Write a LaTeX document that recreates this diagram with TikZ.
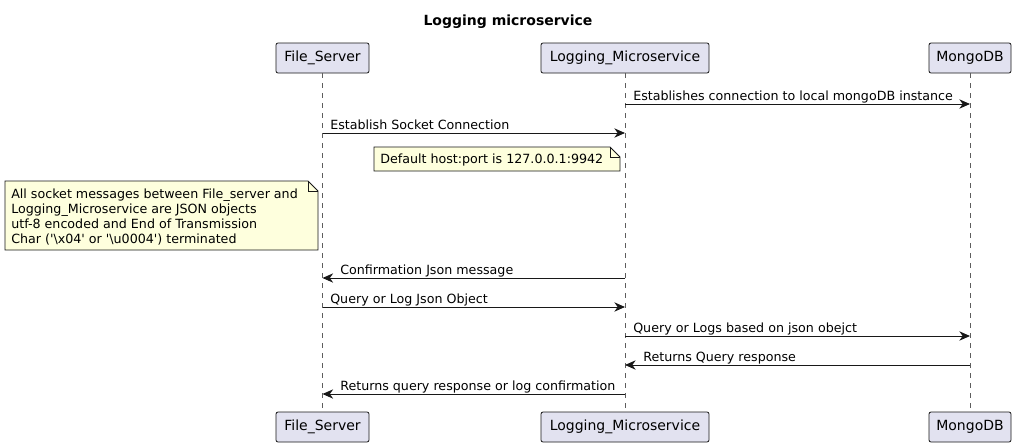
\documentclass[tikz,border=0pt]{standalone}
\usepackage{fontspec}
\setmainfont{DejaVu Sans}
\usetikzlibrary{arrows.meta}
\definecolor{partfill}{HTML}{E2E2F0}
\definecolor{notefill}{HTML}{FEFFDD}
\definecolor{umlline}{HTML}{181818}
\tikzset{
  part/.style={draw=umlline,fill=partfill,rounded corners=1.5pt,line width=0.6pt,minimum height=22.5pt,inner xsep=0pt,font=\fontsize{10.5}{12}\selectfont},
  life/.style={draw=umlline!70,dash pattern=on 3.75pt off 3.75pt,line width=0.4pt},
  msg/.style={draw=umlline,line width=0.75pt,-{Stealth[length=8pt,width=7pt,inset=2.5pt]}},
  lbl/.style={font=\fontsize{9.5}{11}\selectfont,inner sep=0pt,anchor=base west},
  notetxt/.style={font=\fontsize{9.5}{11.25}\selectfont,inner sep=0pt,anchor=north west,align=left}
}
\begin{document}
\begin{tikzpicture}[x=0.75pt,y=-0.75pt]
\useasboundingbox[fill=white](0,0) rectangle (1017,447);
\node[font=\bfseries\fontsize{10.5}{12}\selectfont] (title) at (508,22) {Logging microservice};
\node[part,minimum width=69.75pt] (fs) at (322.5,58) {File\_Server};
\node[part,minimum width=126pt] (lm) at (625,58) {Logging\_Microservice};
\node[part,minimum width=61.5pt] (mg) at (970,58) {MongoDB};
\node[part,minimum width=69.75pt] (fsb) at (322.5,427) {File\_Server};
\node[part,minimum width=126pt] (lmb) at (625,427) {Logging\_Microservice};
\node[part,minimum width=61.5pt] (mgb) at (970,427) {MongoDB};
\draw[life] (fs.south) -- (fsb.north);
\draw[life] (lm.south) -- (lmb.north);
\draw[life] (mg.south) -- (mgb.north);
\draw[msg] (lm|-0,104) -- (mg|-0,104);
\node[lbl] (m1) at (633,100) {Establishes connection to local mongoDB instance};
\draw[msg] (fs|-0,133) -- (lm|-0,133);
\node[lbl] (m2) at (330,129) {Establish Socket Connection};
\draw[line width=0.6pt,draw=umlline,fill=notefill] (374,147) -- (610,147) -- (620,157) -- (620,171) -- (374,171) -- cycle;
\draw[line width=0.6pt,draw=umlline] (610,147) -- (610,157) -- (620,157);
\node[notetxt] (n1) at (380,154) {Default host:port is 127.0.0.1:9942};
\draw[line width=0.6pt,draw=umlline,fill=notefill] (5,181) -- (308,181) -- (318,191) -- (318,250) -- (5,250) -- cycle;
\draw[line width=0.6pt,draw=umlline] (308,181) -- (308,191) -- (318,191);
\node[notetxt] (n2) at (11,189) {All socket messages between File\_server and\\Logging\_Microservice are JSON objects\\utf-8 encoded and End of Transmission\\Char (\textquotesingle\textbackslash x04\textquotesingle{} or \textquotesingle\textbackslash u0004\textquotesingle) terminated};
\draw[msg] (lm|-0,278) -- (fs|-0,278);
\node[lbl] (m3) at (340,274) {Confirmation Json message};
\draw[msg] (fs|-0,307) -- (lm|-0,307);
\node[lbl] (m4) at (330,303) {Query or Log Json Object};
\draw[msg] (lm|-0,336) -- (mg|-0,336);
\node[lbl] (m5) at (633,332) {Query or Logs based on json obejct};
\draw[msg] (mg|-0,365) -- (lm|-0,365);
\node[lbl] (m6) at (643,361) {Returns Query response};
\draw[msg] (lm|-0,394) -- (fs|-0,394);
\node[lbl] (m7) at (340,390) {Returns query response or log confirmation};
\end{tikzpicture}
\end{document}
